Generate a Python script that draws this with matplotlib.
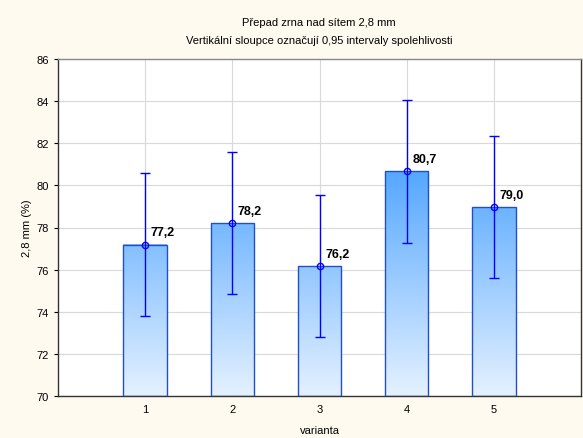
import numpy as np
import matplotlib.pyplot as plt
from matplotlib.colors import LinearSegmentedColormap

plt.rcParams['font.family'] = ['Liberation Sans', 'DejaVu Sans']

varianta = [1, 2, 3, 4, 5]
means = [77.18, 78.21, 76.16, 80.66, 78.96]
ci95 = [3.39, 3.39, 3.38, 3.40, 3.38]

BG = '#FFFAF0'
bar_cmap = LinearSegmentedColormap.from_list('bar', ['#e4f1ff', '#3e9bff'])

fig = plt.figure(figsize=(5.83, 4.39), dpi=100, facecolor=BG)
ax = fig.add_axes([58 / 583, 1 - 397 / 439, 523 / 583, 337 / 439])
ax.set_facecolor('white')

ymin, ymax = 70, 86
width = 0.5
for x, m in zip(varianta, means):
    # gradient fill, colour tied to the y value so taller bars get darker tops
    grad = np.linspace(ymin, m, 100).reshape(-1, 1)
    ax.imshow(grad, extent=[x - width / 2, x + width / 2, ymin, m], origin='lower',
              cmap=bar_cmap, vmin=ymin, vmax=82.5, aspect='auto', zorder=2,
              interpolation='bilinear')
    ax.bar(x, m - ymin, bottom=ymin, width=width, facecolor='none',
           edgecolor='#1f50c8', linewidth=1.0, zorder=3)

ax.errorbar(varianta, means, yerr=ci95, fmt='o', color='#0000ff', ecolor='#0000ff',
            elinewidth=1.0, capsize=3.4, capthick=1.0, markersize=4.5,
            markerfacecolor='none', markeredgewidth=1.0, zorder=4)

for x, m in zip(varianta, means):
    ax.annotate(f'{m:.1f}'.replace('.', ','), (x, m), xytext=(4, 9),
                textcoords='offset points', ha='left', va='center',
                fontsize=9, fontweight='bold', zorder=5)

ax.set_xlim(0, 6)
ax.set_ylim(ymin, ymax)
ax.set_xticks(varianta)
ax.set_yticks(range(70, 87, 2))
ax.grid(True, color='#d9d9d9', linewidth=0.8, zorder=0)
ax.set_axisbelow(True)
ax.tick_params(axis='x', direction='in', length=3, labelsize=8, pad=6)
ax.tick_params(axis='y', direction='out', length=3, labelsize=8)
for side in ['left', 'bottom', 'right', 'top']:
    ax.spines[side].set_color('#333333')
    ax.spines[side].set_linewidth(1.0)
ax.spines['top'].set_color('#888888')

ax.set_xlabel('varianta', fontsize=8, labelpad=8)
ax.set_ylabel('2,8 mm (%)', fontsize=8, labelpad=3)

fig.text(319 / 583, 1 - 23 / 439, 'Přepad zrna nad sítem 2,8 mm', ha='center', va='center', fontsize=8)
fig.text(319 / 583, 1 - 41 / 439, 'Vertikální sloupce označují 0,95 intervaly spolehlivosti',
         ha='center', va='center', fontsize=8)

fig.savefig('out.png', dpi=100, facecolor=BG)
